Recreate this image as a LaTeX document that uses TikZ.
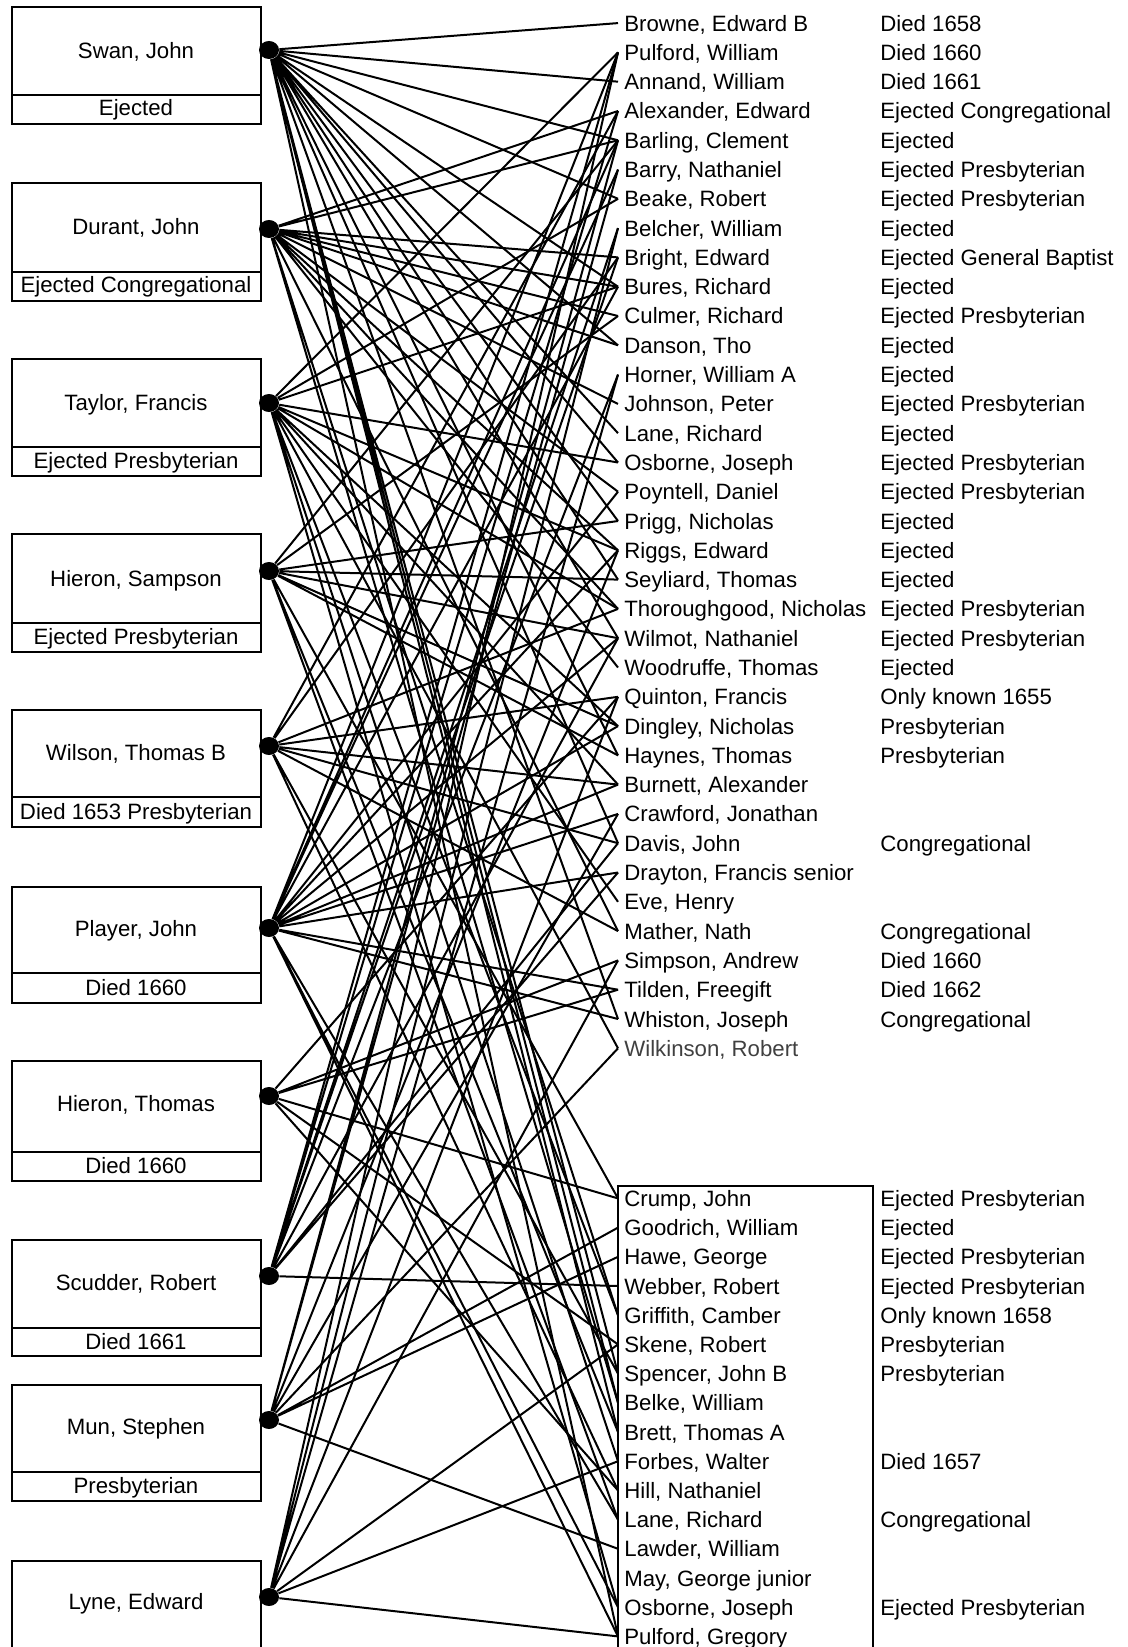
\documentclass[tikz,border=0pt]{standalone}
\usepackage{fontspec}
\setmainfont{Liberation Sans}
\usetikzlibrary{shapes.geometric}
\begin{document}
\begin{tikzpicture}[x=0.5pt,y=-0.5pt,
	txt/.style={inner sep=0pt,text height=8pt,text depth=0pt,font=\fontsize{11.1}{13}\selectfont},
	item/.style={txt,anchor=west,inner xsep=3pt},
	hub/.style={ellipse,fill=black,inner sep=0pt,minimum width=10pt,minimum height=9pt},
	pbox/.style={draw,line width=0.8pt},
	link/.style={line width=1pt}]
\useasboundingbox (0,0) rectangle (1128,1647);
%Swan
\draw[pbox](12,7) rectangle (261,124);
\draw[pbox](12,95)--(261,95);
\node[txt] (swanname) at (136,51) {Swan, John};
\node[txt] (swaninfo) at (136,108) {Ejected};
%Durant
\draw[pbox](12,183) rectangle (261,301);
\draw[pbox](12,272)--(261,272);
\node[txt] (durantname) at (136,227) {Durant, John};
\node[txt] (durantinfo) at (136,285) {Ejected Congregational};
%Taylor
\draw[pbox](12,359) rectangle (261,476);
\draw[pbox](12,447)--(261,447);
\node[txt] (taylorname) at (136,402) {Taylor, Francis};
\node[txt] (taylorinfo) at (136,460) {Ejected Presbyterian};
%Hieron S
\draw[pbox](12,534) rectangle (261,652);
\draw[pbox](12,623)--(261,623);
\node[txt] (hieronsname) at (136,578) {Hieron, Sampson};
\node[txt] (hieronsinfo) at (136,636) {Ejected Presbyterian};
%Wilson
\draw[pbox](12,710) rectangle (261,827);
\draw[pbox](12,797)--(261,797);
\node[txt] (wilsonname) at (136,752) {Wilson, Thomas B};
\node[txt] (wilsoninfo) at (136,811) {Died 1653 Presbyterian};
%Player
\draw[pbox](12,887) rectangle (261,1003);
\draw[pbox](12,973)--(261,973);
\node[txt] (playername) at (136,928) {Player, John};
\node[txt] (playerinfo) at (136,987) {Died 1660};
%Hieron T
\draw[pbox](12,1061) rectangle (261,1181);
\draw[pbox](12,1152)--(261,1152);
\node[txt] (hierontname) at (136,1103) {Hieron, Thomas};
\node[txt] (hierontinfo) at (136,1165) {Died 1660};
%Scudder
\draw[pbox](12,1240) rectangle (261,1356);
\draw[pbox](12,1328)--(261,1328);
\node[txt] (scuddername) at (136,1282) {Scudder, Robert};
\node[txt] (scudderinfo) at (136,1341) {Died 1661};
%Mun
\draw[pbox](12,1385) rectangle (261,1501);
\draw[pbox](12,1472)--(261,1472);
\node[txt] (munname) at (136,1426) {Mun, Stephen};
\node[txt] (muninfo) at (136,1485) {Presbyterian};
%Lyne
\draw[pbox](12,1647)--(12,1561)--(261,1561)--(261,1647);
\node[txt] (lynename) at (136,1601) {Lyne, Edward};
%punkte
\node[hub] (swan) at (269,50) {};
\node[hub] (durant) at (269,229) {};
\node[hub] (taylor) at (269,403) {};
\node[hub] (hierons) at (269,571) {};
\node[hub] (wilson) at (269,746) {};
\node[hub] (player) at (269,928) {};
\node[hub] (hieront) at (269,1096) {};
\node[hub] (scudder) at (269,1276) {};
\node[hub] (mun) at (269,1420) {};
\node[hub] (lyne) at (269,1597) {};
%upper list
\node[item] (browne) at (618,23.1) {Browne, Edward B};
\node[item] (browneinfo) at (874,23.1) {Died 1658};
\node[item] (pulfordw) at (618,52.4) {Pulford, William};
\node[item] (pulfordwinfo) at (874,52.4) {Died 1660};
\node[item] (annand) at (618,81.7) {Annand, William};
\node[item] (annandinfo) at (874,81.7) {Died 1661};
\node[item] (alexander) at (618,111.0) {Alexander, Edward};
\node[item] (alexanderinfo) at (874,111.0) {Ejected Congregational};
\node[item] (barling) at (618,140.3) {Barling, Clement};
\node[item] (barlinginfo) at (874,140.3) {Ejected};
\node[item] (barry) at (618,169.6) {Barry, Nathaniel};
\node[item] (barryinfo) at (874,169.6) {Ejected Presbyterian};
\node[item] (beake) at (618,198.8) {Beake, Robert};
\node[item] (beakeinfo) at (874,198.8) {Ejected Presbyterian};
\node[item] (belcher) at (618,228.1) {Belcher, William};
\node[item] (belcherinfo) at (874,228.1) {Ejected};
\node[item] (bright) at (618,257.4) {Bright, Edward};
\node[item] (brightinfo) at (874,257.4) {Ejected General Baptist};
\node[item] (bures) at (618,286.7) {Bures, Richard};
\node[item] (buresinfo) at (874,286.7) {Ejected};
\node[item] (culmer) at (618,316.0) {Culmer, Richard};
\node[item] (culmerinfo) at (874,316.0) {Ejected Presbyterian};
\node[item] (danson) at (618,345.3) {Danson, Tho};
\node[item] (dansoninfo) at (874,345.3) {Ejected};
\node[item] (horner) at (618,374.6) {Horner, William A};
\node[item] (hornerinfo) at (874,374.6) {Ejected};
\node[item] (johnson) at (618,403.9) {Johnson, Peter};
\node[item] (johnsoninfo) at (874,403.9) {Ejected Presbyterian};
\node[item] (lanet) at (618,433.2) {Lane, Richard};
\node[item] (lanetinfo) at (874,433.2) {Ejected};
\node[item] (osbornet) at (618,462.5) {Osborne, Joseph};
\node[item] (osbornetinfo) at (874,462.5) {Ejected Presbyterian};
\node[item] (poyntell) at (618,491.7) {Poyntell, Daniel};
\node[item] (poyntellinfo) at (874,491.7) {Ejected Presbyterian};
\node[item] (prigg) at (618,521.0) {Prigg, Nicholas};
\node[item] (prigginfo) at (874,521.0) {Ejected};
\node[item] (riggs) at (618,550.3) {Riggs, Edward};
\node[item] (riggsinfo) at (874,550.3) {Ejected};
\node[item] (seyliard) at (618,579.6) {Seyliard, Thomas};
\node[item] (seyliardinfo) at (874,579.6) {Ejected};
\node[item] (thorough) at (618,608.9) {Thoroughgood, Nicholas};
\node[item] (thoroughinfo) at (874,608.9) {Ejected Presbyterian};
\node[item] (wilmot) at (618,638.2) {Wilmot, Nathaniel};
\node[item] (wilmotinfo) at (874,638.2) {Ejected Presbyterian};
\node[item] (woodruffe) at (618,667.5) {Woodruffe, Thomas};
\node[item] (woodruffeinfo) at (874,667.5) {Ejected};
\node[item] (quinton) at (618,696.8) {Quinton, Francis};
\node[item] (quintoninfo) at (874,696.8) {Only known 1655};
\node[item] (dingley) at (618,726.1) {Dingley, Nicholas};
\node[item] (dingleyinfo) at (874,726.1) {Presbyterian};
\node[item] (haynes) at (618,755.4) {Haynes, Thomas};
\node[item] (haynesinfo) at (874,755.4) {Presbyterian};
\node[item] (burnett) at (618,784.6) {Burnett, Alexander};
\node[item] (crawford) at (618,813.9) {Crawford, Jonathan};
\node[item] (davis) at (618,843.2) {Davis, John};
\node[item] (davisinfo) at (874,843.2) {Congregational};
\node[item] (drayton) at (618,872.5) {Drayton, Francis senior};
\node[item] (eve) at (618,901.8) {Eve, Henry};
\node[item] (mather) at (618,931.1) {Mather, Nath};
\node[item] (matherinfo) at (874,931.1) {Congregational};
\node[item] (simpson) at (618,960.4) {Simpson, Andrew};
\node[item] (simpsoninfo) at (874,960.4) {Died 1660};
\node[item] (tilden) at (618,989.7) {Tilden, Freegift};
\node[item] (tildeninfo) at (874,989.7) {Died 1662};
\node[item] (whiston) at (618,1019.0) {Whiston, Joseph};
\node[item] (whistoninfo) at (874,1019.0) {Congregational};
\node[item,text=black!75] (wilkinson) at (618,1048.3) {Wilkinson, Robert};
%lower list
\draw[pbox](618,1647)--(618,1186)--(873,1186)--(873,1647);
\node[item] (crump) at (618,1198.4) {Crump, John};
\node[item] (crumpinfo) at (874,1198.4) {Ejected Presbyterian};
\node[item] (goodrich) at (618,1227.6) {Goodrich, William};
\node[item] (goodrichinfo) at (874,1227.6) {Ejected};
\node[item] (hawe) at (618,1256.8) {Hawe, George};
\node[item] (haweinfo) at (874,1256.8) {Ejected Presbyterian};
\node[item] (webber) at (618,1286.0) {Webber, Robert};
\node[item] (webberinfo) at (874,1286.0) {Ejected Presbyterian};
\node[item] (griffith) at (618,1315.2) {Griffith, Camber};
\node[item] (griffithinfo) at (874,1315.2) {Only known 1658};
\node[item] (skene) at (618,1344.4) {Skene, Robert};
\node[item] (skeneinfo) at (874,1344.4) {Presbyterian};
\node[item] (spencer) at (618,1373.6) {Spencer, John B};
\node[item] (spencerinfo) at (874,1373.6) {Presbyterian};
\node[item] (belke) at (618,1402.8) {Belke, William};
\node[item] (brett) at (618,1432.0) {Brett, Thomas A};
\node[item] (forbes) at (618,1461.2) {Forbes, Walter};
\node[item] (forbesinfo) at (874,1461.2) {Died 1657};
\node[item] (hill) at (618,1490.4) {Hill, Nathaniel};
\node[item] (laneb) at (618,1519.6) {Lane, Richard};
\node[item] (lanebinfo) at (874,1519.6) {Congregational};
\node[item] (lawder) at (618,1548.8) {Lawder, William};
\node[item] (may) at (618,1578.0) {May, George junior};
\node[item] (osborneb) at (618,1607.2) {Osborne, Joseph};
\node[item] (osbornebinfo) at (874,1607.2) {Ejected Presbyterian};
\node[item] (pulfordg) at (618,1636.4) {Pulford, Gregory};
%links
\draw[link] (swan)--(browne.west) (swan)--(annand.west) (swan)--(barling.west)
	(swan)--(beake.west) (swan)--(bures.west) (swan)--(danson.west) (swan)--(lanet.west)
	(swan)--(osbornet.west) (swan)--(prigg.west) (swan)--(seyliard.west) (swan)--(wilmot.west)
	(swan)--(haynes.west) (swan)--(davis.west) (swan)--(whiston.west) (swan)--(spencer.west)
	(swan)--(belke.west) (swan)--(brett.west) (swan)--(pulfordg.west);
\draw[link] (durant)--(alexander.west) (durant)--(barling.west) (durant)--(bright.west)
	(durant)--(bures.west) (durant)--(culmer.west) (durant)--(danson.west) (durant)--(johnson.west)
	(durant)--(poyntell.west) (durant)--(riggs.west) (durant)--(thorough.west)
	(durant)--(woodruffe.west) (durant)--(mather.west) (durant)--(griffith.west) (durant)--(belke.west);
\draw[link] (taylor)--(pulfordw.west) (taylor)--(beake.west) (taylor)--(bures.west)
	(taylor)--(osbornet.west) (taylor)--(riggs.west) (taylor)--(thorough.west) (taylor)--(dingley.west)
	(taylor)--(burnett.west) (taylor)--(eve.west) (taylor)--(wilkinson.west) (taylor)--(griffith.west)
	(taylor)--(forbes.west) (taylor)--(osborneb.west);
\draw[link] (hierons)--(barling.west) (hierons)--(culmer.west) (hierons)--(prigg.west)
	(hierons)--(seyliard.west) (hierons)--(wilmot.west) (hierons)--(dingley.west)
	(hierons)--(haynes.west) (hierons)--(crump.west) (hierons)--(brett.west) (hierons)--(laneb.west);
\draw[link] (wilson)--(alexander.west) (wilson)--(bright.west) (wilson)--(thorough.west)
	(wilson)--(quinton.west) (wilson)--(burnett.west) (wilson)--(davis.west) (wilson)--(mather.west)
	(wilson)--(spencer.west) (wilson)--(hill.west);
\draw[link] (player)--(pulfordw.west) (player)--(barling.west) (player)--(barry.west)
	(player)--(bures.west) (player)--(poyntell.west) (player)--(riggs.west) (player)--(wilmot.west)
	(player)--(dingley.west) (player)--(burnett.west) (player)--(crawford.west) (player)--(drayton.west)
	(player)--(tilden.west) (player)--(whiston.west) (player)--(laneb.west) (player)--(osborneb.west)
	(player)--(pulfordg.west);
\draw[link] (hieront)--(quinton.west) (hieront)--(simpson.west) (hieront)--(tilden.west)
	(hieront)--(crump.west) (hieront)--(skene.west) (hieront)--(hill.west);
\draw[link] (scudder)--(pulfordw.west) (scudder)--(alexander.west) (scudder)--(belcher.west)
	(scudder)--(bright.west) (scudder)--(horner.west) (scudder)--(wilmot.west) (scudder)--(davis.west)
	(scudder)--(drayton.west) (scudder)--(webber.west);
\draw[link] (mun)--(barling.west) (mun)--(barry.west) (mun)--(riggs.west) (mun)--(crawford.west)
	(mun)--(wilkinson.west) (mun)--(goodrich.west) (mun)--(hawe.west) (mun)--(lawder.west);
\draw[link] (lyne)--(pulfordw.west) (lyne)--(belcher.west) (lyne)--(horner.west)
	(lyne)--(quinton.west) (lyne)--(simpson.west) (lyne)--(skene.west) (lyne)--(forbes.west)
	(lyne)--(pulfordg.west);
\end{tikzpicture}
\end{document}
